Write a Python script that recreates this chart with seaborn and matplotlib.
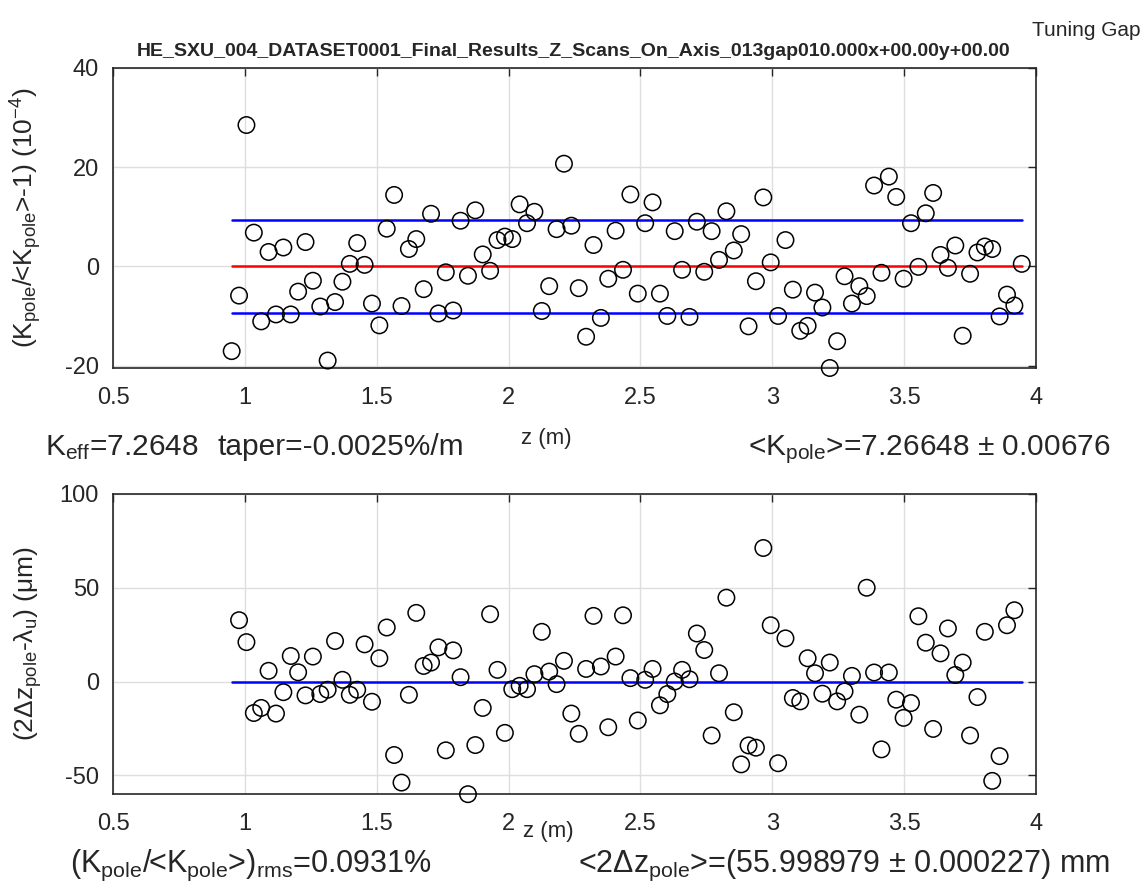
import numpy as np
import matplotlib
matplotlib.use("Agg")
import matplotlib.pyplot as plt
import seaborn as sns

# pole positions along the undulator (m), one pole every 28 mm
z_start = 0.95
pole_step = 0.028
n_poles = 108
z_poles = z_start + pole_step * np.arange(n_poles)

# K_pole/<K_pole>-1 per pole, in 1e-4
k_dev = [
    -17.1, -5.9, 28.5, 6.8, -11.1, 2.9, -9.7, 3.8, -9.7, -5.1,
    4.9, -2.9, -8.1, -19.0, -7.2, -3.1, 0.5, 4.7, 0.3, -7.5,
    -11.9, 7.6, 14.4, -8.0, 3.5, 5.5, -4.6, 10.6, -9.5, -1.2,
    -8.9, 9.2, -1.9, 11.3, 2.4, -0.9, 5.3, 6.0, 5.5, 12.5,
    8.7, 11.0, -9.0, -4.0, 7.5, 20.7, 8.2, -4.4, -14.2, 4.3,
    -10.4, -2.5, 7.2, -0.7, 14.5, -5.5, 8.7, 12.9, -5.5, -10.0,
    7.1, -0.7, -10.2, 9.0, -1.1, 7.1, 1.3, 11.1, 3.2, 6.5,
    -12.1, -3.0, 13.9, 0.8, -10.0, 5.3, -4.7, -13.0, -12.0, -5.3,
    -8.3, -20.5, -15.1, -2.0, -7.5, -4.0, -6.0, 16.3, -1.3, 18.1,
    14.0, -2.5, 8.7, -0.1, 10.7, 14.8, 2.3, -0.3, 4.2, -14.0,
    -1.5, 2.8, 4.0, 3.5, -10.1, -5.7, -7.9, 0.5,
]

# 2*dz_pole - lambda_u for the inner poles, in um
dz_dev = [
    32.7, 21.0, -16.8, -14.1, 5.7, -17.1, -5.7, 13.6, 4.9, -7.4,
    13.3, -6.7, -4.4, 21.6, 0.9, -7.1, -4.4, 19.8, -10.8, 12.4,
    28.8, -39.2, -53.9, -7.1, 36.6, 8.3, 10.1, 18.2, -36.7, 16.6,
    2.3, -60.1, -33.9, -14.1, 35.9, 6.2, -27.4, -4.1, -2.3, -4.1,
    3.9, 26.5, 5.3, -1.4, 11.0, -17.1, -27.9, 6.7, 35.0, 8.0,
    -24.4, 13.3, 35.3, 1.8, -20.8, 0.9, 6.7, -12.7, -6.7, 0.0,
    6.2, 1.2, 25.6, 16.8, -28.8, 4.4, 44.7, -16.4, -44.2, -34.1,
    -35.3, 71.2, 30.0, -43.6, 23.0, -8.8, -10.6, 12.4, 4.4, -6.5,
    10.1, -10.6, -5.3, 3.0, -17.7, 50.0, 4.8, -36.2, 4.8, -9.7,
    -19.4, -11.5, 34.8, 20.7, -25.3, 15.0, 28.3, 3.5, 10.1, -28.8,
    -8.3, 26.5, -53.0, -39.8, 30.0, 38.0,
]
z_inner = z_poles[1:1 + len(dz_dev)]

k_rms = 9.31
x_ticks = [0.5, 1, 1.5, 2, 2.5, 3, 3.5, 4]
x_labels = ["0.5", "1", "1.5", "2", "2.5", "3", "3.5", "4"]

title = "HE_SXU_004_DATASET0001_Final_Results_Z_Scans_On_Axis_013gap010.000x+00.00y+00.00"

sns.set_style("white")
plt.rcParams["font.family"] = ["Liberation Sans", "DejaVu Sans"]
plt.rcParams["mathtext.fontset"] = "custom"
plt.rcParams["mathtext.rm"] = "Liberation Sans"
plt.rcParams["mathtext.it"] = "Liberation Sans:italic"
plt.rcParams["axes.unicode_minus"] = False

W, H = 1147, 894
fig = plt.figure(figsize=(W / 100, H / 100), dpi=100)
ax1 = fig.add_axes([113 / W, 1 - 368 / H, 923 / W, 300 / H])
ax2 = fig.add_axes([113 / W, 1 - 794 / H, 923 / W, 300 / H])

edge = "#262626"
grid_c = "#dedede"
txt_c = "#262626"

def style(ax):
    ax.set_xlim(0.5, 4)
    ax.set_xticks(x_ticks)
    ax.set_xticklabels(x_labels)
    ax.grid(True, color=grid_c, linewidth=1.0)
    ax.set_axisbelow(True)
    ax.tick_params(direction="in", top=True, right=True, length=6, width=1,
                   color=edge, labelsize=17, labelcolor=txt_c)
    ax.tick_params(axis="x", pad=14)
    ax.tick_params(axis="y", pad=10)
    for s in ax.spines.values():
        s.set_color(edge)
        s.set_linewidth(1.2)

# top panel
z_line = [z_poles[0], z_poles[-1]]
ax1.plot(z_line, [0, 0], color="#ff0000", lw=1.8, zorder=2)
ax1.plot(z_line, [k_rms, k_rms], color="#0000ff", lw=1.8, zorder=2)
ax1.plot(z_line, [-k_rms, -k_rms], color="#0000ff", lw=1.8, zorder=2)
sns.scatterplot(x=z_poles, y=k_dev, ax=ax1, marker="o", s=140,
                facecolor="none", edgecolor="black", linewidth=1.1,
                clip_on=False, zorder=3)
style(ax1)
ax1.set_ylim(-20.5, 40)
ax1.set_yticks([-20, 0, 20, 40])
ax1.set_ylabel(r"(K$_{\rm pole}$/<K$_{\rm pole}$>-1) (10$^{-4}$)", fontsize=19, color=txt_c)
ax1.yaxis.set_label_coords(-0.075, 0.5)
ax1.set_xlabel("z (m)", fontsize=16, color=txt_c)
ax1.xaxis.set_label_coords((546 - 113) / 923, -0.2)

# bottom panel
ax2.plot(z_line, [0, 0], color="#0000ff", lw=1.8, zorder=2)
sns.scatterplot(x=z_inner, y=dz_dev, ax=ax2, marker="o", s=140,
                facecolor="none", edgecolor="black", linewidth=1.1,
                clip_on=False, zorder=3)
style(ax2)
ax2.set_ylim(-60, 100)
ax2.set_yticks([-50, 0, 50, 100])
ax2.set_ylabel("(2Δz$_{\\rm pole}$-λ$_{\\rm u}$) (μm)", fontsize=19, color=txt_c)
ax2.yaxis.set_label_coords(-0.075, 0.5)
ax2.set_xlabel("z (m)", fontsize=16, color=txt_c)
ax2.xaxis.set_label_coords((548 - 113) / 923, -0.09)

# texts
fig.text(1140 / W, 1 - 30 / H, "Tuning Gap", fontsize=15, ha="right", va="center", color=txt_c)
fig.text(574 / W, 1 - 52 / H, title, fontsize=14, fontweight="bold", ha="center", va="center")
fig.text(45 / W, 1 - 455 / H, r"K$_{\rm eff}$=7.2648", fontsize=21.5, ha="left", va="baseline", color=txt_c)
fig.text(218 / W, 1 - 455 / H, "taper=-0.0025%/m", fontsize=21.5, ha="left", va="baseline", color=txt_c)
fig.text(1110 / W, 1 - 455 / H, r"<K$_{\rm pole}$>=7.26648 ± 0.00676", fontsize=21.5, ha="right", va="baseline", color=txt_c)
fig.text(70 / W, 1 - 872 / H, r"(K$_{\rm pole}$/<K$_{\rm pole}$>)$_{\rm rms}$=0.0931%", fontsize=22, ha="left", va="baseline", color=txt_c)
fig.text(1110 / W, 1 - 872 / H, "<2Δz$_{\\rm pole}$>=(55.998979 ± 0.000227) mm", fontsize=22, ha="right", va="baseline", color=txt_c)

fig.savefig("out.png", dpi=100)
